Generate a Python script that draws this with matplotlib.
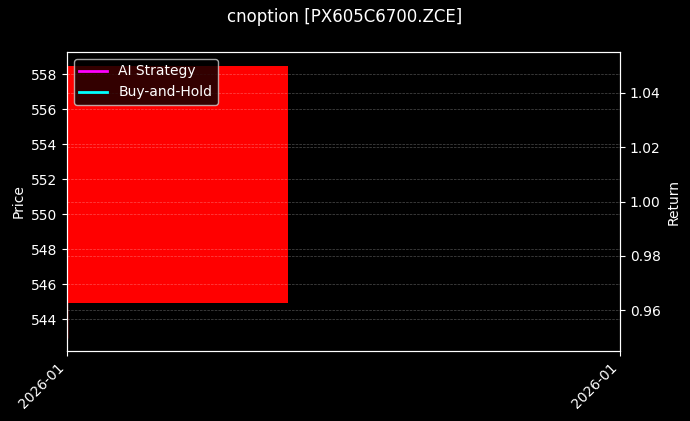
import matplotlib
matplotlib.use('Agg')
import matplotlib.pyplot as plt
import matplotlib.dates as mdates
import pandas as pd

# 数据
dates = pd.to_datetime(['2026-01-15'])
open_p = [558.5]
high_p = [558.5]
low_p = [542.95]
close_p = [544.9]
ai_ret = [1.0]
bh_ret = [1.0]
title = 'cnoption [PX605C6700.ZCE]'

plt.style.use('dark_background')
fig = plt.figure(figsize=(6.9, 4.21), dpi=100)
ax = fig.add_axes([0.097, 0.166, 0.8016, 0.7105])

x = mdates.date2num(dates)
# K线
for i in range(len(x)):
    c = 'red' if close_p[i] < open_p[i] else 'green'
    ax.vlines(x[i], low_p[i], high_p[i], color=c, linewidth=1)
    ax.bar(x[i], close_p[i] - open_p[i], bottom=open_p[i], width=0.4,
           align='edge', color=c)
ax.set_xlim(x[0], x[0] + 1)
lo, hi = min(low_p), max(high_p)
pad = (hi - lo) * 0.05
ax.set_ylim(lo - pad, hi + pad)
ax.set_ylabel('Price')
ax.grid(True, linestyle='--', linewidth=0.5, alpha=0.3)

ax2 = ax.twinx()
ax2.plot(x, ai_ret, color='magenta', linewidth=2, label='AI Strategy')
ax2.plot(x, bh_ret, color='cyan', linewidth=2, label='Buy-and-Hold')
ax2.set_ylabel('Return')
ax2.grid(True, linestyle='--', linewidth=0.5, alpha=0.3)
ax2.legend(loc='upper left')
ax2.set_xlim(x[0], x[0] + 1)

ax.set_xticks([x[0], x[0] + 1])
ax.xaxis.set_major_formatter(mdates.DateFormatter('%Y-%m'))
plt.setp(ax.get_xticklabels(), rotation=45, ha='right')

fig.suptitle(title, fontsize=12, y=0.98)
plt.savefig('out.png', dpi=100)
